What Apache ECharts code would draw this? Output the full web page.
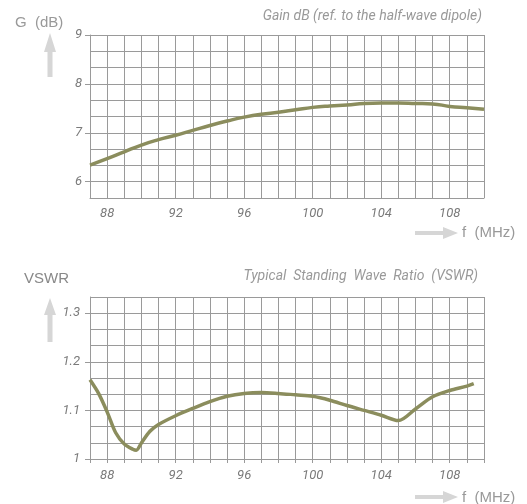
<!DOCTYPE html>
<html>
<head>
<meta charset="utf-8">
<script src="https://cdn.jsdelivr.net/npm/echarts@6.0.0/dist/echarts.min.js"></script>
<style>
    html,body{margin:0;padding:0;background:#fff;}
    #chart{width:527px;height:504px;}
</style>
</head>
<body>
<div id="chart"></div>
<script>
/* gain and vswr curves, 87 - 110 MHz */
var gainFreq = [87,88,89,90,91,92,93,94,95,96,97,98,99,100,101,102,103,104,105,106,107,108,109,110];
var gainValues = [6.34,6.47,6.61,6.75,6.86,6.95,7.05,7.15,7.24,7.32,7.38,7.42,7.47,7.52,7.55,7.57,7.60,7.61,7.61,7.60,7.59,7.54,7.51,7.48];
var gainTicks = [6,7,8,9];

var vswrFreq = [87,87.5,88,88.5,89,89.5,89.7,90,90.5,91,92,93,94,95,96,97,98,99,100,101,102,103,104,105,106,107,108,109,109.4];
var vswrValues = [1.163,1.135,1.097,1.054,1.031,1.020,1.018,1.033,1.057,1.071,1.089,1.104,1.118,1.129,1.135,1.137,1.135,1.132,1.129,1.121,1.110,1.100,1.090,1.079,1.103,1.128,1.141,1.150,1.155];
var vswrTicks = [1,1.1,1.2,1.3];

var freqTicks = [88,92,96,100,104,108];

var lineColor = '#8b8d5d';
var gridColor = '#9a9a9a';
var labelFont = 'Roboto,sans-serif';
var plainFont = '"Liberation Sans",sans-serif';
var arrowColor = '#d6d6d6';

function pairs(xs, ys){
    var out = [];
    for(var i=0;i<xs.length;i++){
        out.push([xs[i], ys[i]]);
    }
    return out;
}

function xAxisCfg(idx, showTick, margin){
    return {
        type:'value',
        gridIndex:idx,
        min:87,
        max:110,
        interval:1,
        axisLine:{show:true,lineStyle:{color:gridColor,width:1}},
        axisTick:{show:showTick,length:4,lineStyle:{color:gridColor}},
        splitLine:{show:true,lineStyle:{color:gridColor,width:1}},
        axisLabel:{
            customValues:freqTicks,
            margin:margin,
            color:'#7a7a7a',
            fontSize:13,
            fontStyle:'italic',
            fontFamily:labelFont
        }
    };
}

// grid lines + labels
function yAxisCfg(idx, min, max, interval, ticks, margin){
    return {
        type:'value',
        gridIndex:idx,
        position:'left',
        min:min,
        max:max,
        interval:interval,
        axisLine:{show:true,lineStyle:{color:gridColor,width:1}},
        axisTick:{show:false},
        splitLine:{show:true,lineStyle:{color:gridColor,width:1}},
        axisLabel:{
            customValues:ticks,
            margin:margin,
            color:'#7a7a7a',
            fontSize:13,
            fontStyle:'italic',
            fontFamily:labelFont
        }
    };
}

// short ticks only at the labelled values
function yTickCfg(idx, min, max, ticks){
    return {
        type:'value',
        gridIndex:idx,
        position:'left',
        offset:0,
        min:min,
        max:max,
        axisLine:{show:false},
        axisTick:{show:true,customValues:ticks,length:5,lineStyle:{color:gridColor}},
        splitLine:{show:false},
        axisLabel:{show:false}
    };
}

function upArrow(x, tip, base, end){
    return {
        type:'polygon',
        silent:true,
        shape:{points:[[x,tip],[x+6,base],[x+2.5,base],[x+2.5,end],[x-2.5,end],[x-2.5,base],[x-6,base]]},
        style:{fill:arrowColor}
    };
}

function rightArrow(y, start, base, tip){
    return {
        type:'polygon',
        silent:true,
        shape:{points:[[tip,y],[base,y-6],[base,y-2],[start,y-2],[start,y+2],[base,y+2],[base,y+6]]},
        style:{fill:arrowColor}
    };
}

var myChart = echarts.init(document.getElementById('chart'));
var option = {
    animation:false,
    backgroundColor:'#fff',
    title:[
        {
            text:'Gain dB (ref. to the half-wave dipole)',
            right:45,
            top:9,
            padding:0,
            textStyle:{color:'#999',fontSize:14,fontWeight:'normal',fontStyle:'italic',fontFamily:labelFont}
        },
        {
            text:'Typical  Standing  Wave  Ratio  (VSWR)',
            right:49,
            top:269,
            padding:0,
            textStyle:{color:'#999',fontSize:14,fontWeight:'normal',fontStyle:'italic',fontFamily:labelFont}
        },
        {
            text:'G  (dB)',
            left:15,
            top:15,
            padding:0,
            textStyle:{color:'#999',fontSize:15,fontWeight:'normal',fontFamily:plainFont}
        },
        {
            text:'VSWR',
            left:24,
            top:271,
            padding:0,
            textStyle:{color:'#888',fontSize:15,fontWeight:'normal',fontFamily:plainFont}
        },
        {
            text:'f  (MHz)',
            left:462,
            top:225,
            padding:0,
            textStyle:{color:'#999',fontSize:15,fontWeight:'normal',fontFamily:plainFont}
        },
        {
            text:'f  (MHz)',
            left:462,
            top:490,
            padding:0,
            textStyle:{color:'#999',fontSize:15,fontWeight:'normal',fontFamily:plainFont}
        }
    ],
    grid:[
        {left:90,right:43,top:35,height:163},
        {left:90,right:43,top:297,height:162}
    ],
    xAxis:[
        xAxisCfg(0,false,9),
        xAxisCfg(1,true,10)
    ],
    yAxis:[
        yAxisCfg(0,17/3,9,1/3,gainTicks,8),
        yAxisCfg(1,1,4/3,1/30,vswrTicks,10),
        yTickCfg(0,17/3,9,gainTicks),
        yTickCfg(1,1,4/3,vswrTicks)
    ],
    graphic:[
        upArrow(50,33,52,77),
        upArrow(50,298,315,342),
        rightArrow(233,415,443,458),
        rightArrow(497,415,443,458)
    ],
    series:[
        {
            name:'Gain',
            type:'line',
            xAxisIndex:0,
            yAxisIndex:0,
            smooth:true,
            symbol:'none',
            lineStyle:{color:lineColor,width:3.5},
            data:pairs(gainFreq,gainValues)
        },
        {
            name:'VSWR',
            type:'line',
            xAxisIndex:1,
            yAxisIndex:1,
            smooth:0.3,
            symbol:'none',
            lineStyle:{color:lineColor,width:3.5},
            data:pairs(vswrFreq,vswrValues)
        }
    ]
};
myChart.setOption(option);
</script>
</body>
</html>
